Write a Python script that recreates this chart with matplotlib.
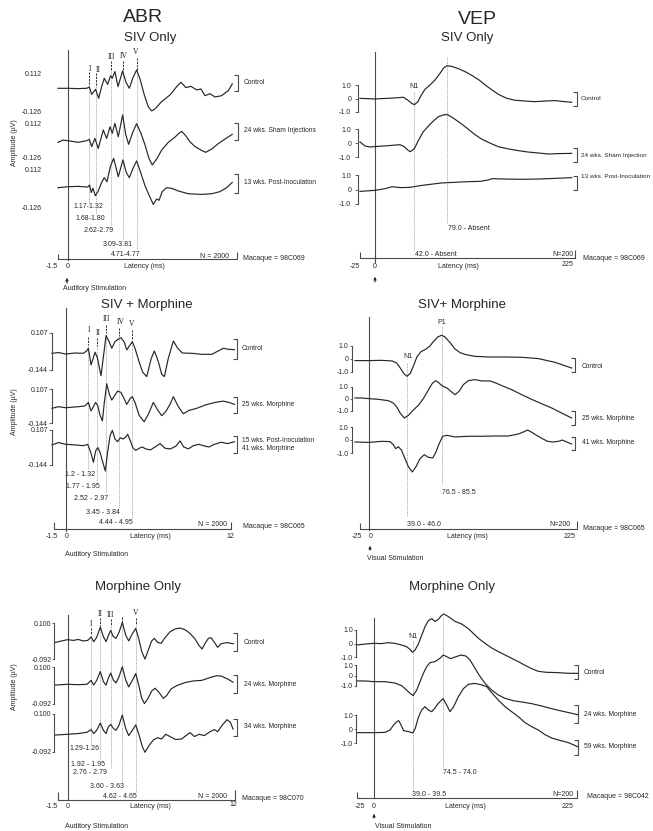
import matplotlib
matplotlib.use("Agg")
import matplotlib.pyplot as plt

plt.rcParams['font.family'] = ['Liberation Sans', 'DejaVu Sans']

# ======================= DATA =======================
# ---- ABR, SIV Only (latency ms, amplitude uV) ----
p1_ctrl_t = [-0.74, 0.00, 0.71, 1.31, 1.50, 1.67, 1.95, 2.17, 2.38, 2.57, 2.81, 3.02, 3.14, 3.33, 3.55, 3.88, 4.12, 4.36, 4.60, 4.88, 5.14, 5.43, 5.71, 5.95, 6.19, 6.67, 7.26, 7.74, 8.05, 8.40, 8.76, 9.17, 9.48, 9.76, 10.12, 10.48, 10.95, 11.43, 11.71]
p1_ctrl_v = [0.000, 0.000, -0.002, 0.000, 0.008, -0.037, -0.006, -0.061, 0.010, 0.061, 0.024, 0.077, 0.061, 0.102, 0.010, 0.106, 0.037, 0.000, 0.061, 0.112, 0.051, -0.041, -0.112, -0.138, -0.126, -0.081, -0.041, 0.010, 0.037, 0.004, 0.012, -0.010, -0.004, -0.045, -0.033, -0.053, -0.045, -0.014, 0.026]
p1_sham_t = [-0.74, -0.36, 0.12, 0.71, 1.31, 1.50, 1.67, 1.90, 2.14, 2.50, 2.74, 2.98, 3.14, 3.33, 3.57, 3.88, 4.10, 4.31, 4.60, 4.88, 5.19, 5.48, 5.76, 6.00, 6.31, 6.67, 7.14, 7.62, 7.90, 8.10, 8.38, 8.69, 9.05, 9.52, 9.81, 10.24, 10.71, 11.19, 11.71]
p1_sham_v = [-0.004, 0.010, 0.004, -0.004, 0.006, 0.014, -0.030, 0.020, -0.041, 0.071, 0.020, 0.091, 0.051, 0.112, 0.030, 0.163, 0.045, -0.016, 0.057, 0.110, 0.051, -0.020, -0.102, -0.142, -0.106, -0.051, -0.004, 0.028, 0.051, 0.063, 0.037, 0.000, -0.030, -0.053, -0.065, -0.045, -0.012, 0.016, 0.045]
p1_post_t = [-0.74, 0.00, 0.71, 1.38, 1.52, 1.64, 1.76, 1.93, 2.14, 2.38, 2.57, 2.76, 3.00, 3.24, 3.57, 3.90, 4.14, 4.36, 4.62, 4.88, 5.19, 5.48, 5.76, 6.07, 6.31, 6.48, 6.71, 7.02, 7.38, 7.86, 8.57, 9.52, 10.24, 10.83, 11.31, 11.71]
p1_post_v = [-0.006, 0.000, 0.002, -0.002, 0.010, -0.035, -0.010, -0.055, -0.026, 0.026, 0.055, 0.030, 0.122, 0.173, 0.061, 0.163, 0.087, 0.055, 0.112, 0.157, 0.081, 0.006, -0.050, -0.108, -0.075, -0.083, -0.030, -0.006, -0.010, -0.026, -0.043, -0.047, -0.043, -0.030, -0.006, 0.026]
p1_waves_ms = [1.48, 1.95, 3.05, 3.88, 4.88]
p1_wave_names = ['I', 'II', 'III', 'IV', 'V']
p1_latency_text = ['1.17-1.32', '1.68-1.80', '2.62-2.79', '3.09-3.81', '4.71-4.77']
p1_scale_ticks = [0.112, -0.126]
p1_trace_names = ['Control', '24 wks. Sham Injections', '13 wks. Post-Inoculation']

# ---- ABR, SIV + Morphine ----
p3_ctrl_t = [-0.98, -0.52, 0.00, 0.67, 1.26, 1.50, 1.62, 1.81, 2.10, 2.26, 2.52, 2.71, 2.88, 3.10, 3.29, 3.52, 3.71, 3.95, 4.19, 4.36, 4.60, 4.76, 4.95, 5.24, 5.50, 5.79, 6.10, 6.33, 6.62, 6.86, 7.05, 7.33, 7.69, 8.00, 8.33, 9.00, 9.71, 10.43, 10.90, 11.26, 11.62, 12.05]
p3_ctrl_v = [0.000, 0.005, -0.005, 0.002, 0.000, 0.016, 0.034, -0.079, 0.007, -0.029, -0.152, -0.011, 0.120, 0.079, 0.034, 0.079, 0.093, 0.106, 0.075, 0.023, 0.057, 0.079, 0.034, -0.057, -0.129, -0.158, -0.038, 0.016, -0.057, -0.143, -0.158, -0.034, 0.084, 0.034, 0.002, 0.000, -0.007, -0.007, 0.016, 0.034, 0.027, 0.025]
p3_m25_t = [-0.98, -0.52, 0.00, 0.90, 1.38, 1.62, 1.81, 2.14, 2.29, 2.45, 2.62, 2.76, 2.93, 3.12, 3.29, 3.52, 3.71, 3.95, 4.14, 4.36, 4.62, 4.76, 4.95, 5.24, 5.60, 5.90, 6.26, 6.57, 6.86, 7.14, 7.45, 7.69, 8.05, 8.40, 8.81, 9.36, 9.95, 10.67, 11.26, 11.67, 12.05]
p3_m25_v = [-0.011, 0.000, -0.007, 0.000, 0.005, 0.029, -0.029, 0.029, 0.007, -0.057, -0.097, 0.029, 0.156, 0.084, 0.045, 0.079, 0.106, 0.097, 0.061, 0.016, 0.057, 0.068, 0.029, -0.057, -0.102, -0.052, 0.029, -0.023, -0.061, -0.034, 0.016, 0.068, 0.000, -0.048, -0.025, -0.011, 0.011, 0.029, 0.038, 0.029, 0.016]
p3_m41_t = [-0.98, -0.52, 0.00, 0.67, 1.26, 1.57, 1.79, 1.98, 2.14, 2.29, 2.45, 2.67, 2.83, 3.00, 3.17, 3.33, 3.52, 3.71, 3.90, 4.10, 4.29, 4.43, 4.62, 4.79, 5.00, 5.24, 5.48, 5.71, 6.05, 6.38, 6.74, 7.10, 7.48, 7.86, 8.17, 8.43, 8.76, 9.12, 9.52, 9.90, 10.24, 10.62, 11.10, 11.57, 12.05]
p3_m41_v = [-0.011, 0.005, -0.007, -0.011, -0.016, -0.007, -0.061, -0.129, -0.052, -0.029, -0.061, -0.136, -0.188, -0.057, 0.052, 0.088, 0.029, 0.011, 0.038, 0.029, 0.043, 0.061, 0.016, -0.029, -0.048, -0.034, -0.025, -0.038, -0.045, -0.025, -0.002, -0.034, -0.038, -0.020, 0.016, -0.025, -0.038, -0.016, -0.007, -0.018, -0.025, -0.007, 0.007, -0.002, 0.011]
p3_waves_ms = [1.62, 2.26, 2.88, 3.81, 4.76]
p3_wave_names = ['I', 'II', 'III', 'IV', 'V']
p3_latency_text = ['1.2 - 1.32', '1.77 - 1.95', '2.52 - 2.97', '3.45 - 3.84', '4.44 - 4.95']
p3_scale_ticks = [0.107, -0.144]
p3_trace_names = ['Control', '25 wks. Morphine', '15 wks. Post-Inoculation\n41 wks. Morphine']

# ---- ABR, Morphine Only ----
p5_ctrl_t = [-0.90, -0.43, 0.00, 0.40, 0.76, 1.12, 1.43, 1.67, 1.86, 2.07, 2.33, 2.55, 2.74, 2.90, 3.07, 3.26, 3.45, 3.67, 3.90, 4.14, 4.36, 4.62, 4.86, 5.07, 5.29, 5.52, 5.76, 6.00, 6.19, 6.43, 6.67, 6.95, 7.31, 7.67, 8.02, 8.38, 8.74, 9.10, 9.38, 9.60, 9.81, 10.05, 10.24, 10.48, 10.71, 10.95, 11.36, 11.83]
p5_ctrl_v = [-0.004, 0.004, 0.011, 0.007, 0.012, 0.004, 0.007, 0.025, 0.000, 0.023, 0.078, 0.027, 0.000, 0.032, 0.060, 0.027, 0.018, 0.050, 0.103, 0.036, 0.004, 0.043, 0.071, 0.018, -0.053, -0.093, -0.044, 0.004, 0.018, -0.004, -0.009, 0.021, 0.053, 0.068, 0.073, 0.064, 0.044, 0.014, -0.021, -0.039, -0.009, 0.018, 0.021, -0.004, -0.030, -0.011, -0.005, -0.011]
p5_m24_t = [-0.90, 0.00, 0.76, 1.38, 1.67, 1.86, 2.07, 2.33, 2.55, 2.74, 2.90, 3.07, 3.26, 3.45, 3.67, 3.90, 4.14, 4.36, 4.62, 4.86, 5.07, 5.29, 5.48, 5.71, 6.00, 6.24, 6.52, 6.83, 7.07, 7.38, 7.79, 8.38, 8.98, 9.57, 10.17, 10.64, 11.00, 11.43, 11.81]
p5_m24_v = [-0.004, 0.000, -0.002, 0.000, 0.021, -0.004, 0.021, 0.068, 0.014, -0.004, 0.032, 0.060, 0.023, 0.007, 0.041, 0.094, 0.023, -0.014, 0.021, 0.057, -0.004, -0.075, -0.103, -0.078, -0.036, -0.021, -0.043, -0.075, -0.060, -0.025, -0.007, 0.009, 0.018, 0.021, 0.036, 0.046, 0.043, 0.028, 0.011]
p5_m34_t = [-0.90, 0.00, 0.76, 1.38, 1.67, 1.86, 2.07, 2.33, 2.55, 2.74, 2.90, 3.07, 3.26, 3.45, 3.67, 3.90, 4.14, 4.36, 4.62, 4.86, 5.10, 5.33, 5.52, 5.81, 6.12, 6.43, 6.71, 7.00, 7.31, 7.71, 8.14, 8.50, 8.74, 9.05, 9.38, 9.76, 10.17, 10.48, 10.71, 11.05, 11.38, 11.62, 11.81]
p5_m34_v = [-0.004, 0.000, 0.004, 0.011, 0.025, 0.004, 0.021, 0.060, 0.021, 0.004, 0.039, 0.053, 0.032, 0.021, 0.050, 0.103, 0.032, -0.007, 0.021, 0.050, -0.004, -0.066, -0.096, -0.060, -0.030, -0.018, -0.025, 0.000, -0.012, -0.028, -0.025, -0.004, 0.009, -0.012, 0.000, -0.007, 0.014, 0.025, 0.014, 0.050, 0.078, 0.064, 0.028]
p5_waves_ms = [1.67, 2.33, 3.07, 3.90, 4.86]
p5_wave_names = ['I', 'II', 'III', '', 'V']
p5_latency_text = ['1.29-1.26', '1.92 - 1.95', '2.76 - 2.79', '3.60 - 3.63', '4.62 - 4.65']
p5_scale_ticks = [0.100, -0.092]
p5_trace_names = ['Control', '24 wks. Morphine', '34 wks. Morphine']

# ---- VEP, SIV Only (latency ms, amplitude uV) ----
p2_ctrl_t = [-17.1, -7.6, 0.0, 15.2, 26.7, 32.4, 37.3, 41.9, 45.0, 48.8, 52.6, 57.1, 62.9, 68.6, 74.3, 78.5, 82.3, 88.4, 96.0, 103.6, 111.2, 118.9, 126.5, 134.1, 141.7, 150.5, 160.0, 171.4, 182.9, 194.3, 205.7, 224.8]
p2_ctrl_v = [0.00, -0.03, -0.05, 0.00, 0.05, 0.08, -0.13, -0.38, -0.49, -0.28, 0.21, 0.69, 1.03, 1.41, 1.92, 2.33, 2.51, 2.44, 2.26, 2.03, 1.74, 1.41, 1.00, 0.62, 0.28, 0.00, -0.15, -0.21, -0.26, -0.21, -0.18, -0.31]
p2_sham_t = [-17.1, -11.4, -5.7, 3.8, 15.2, 28.6, 33.5, 37.3, 40.4, 45.0, 49.5, 55.2, 61.0, 66.7, 72.4, 78.1, 81.9, 85.7, 91.4, 99.0, 106.7, 114.3, 121.9, 129.5, 141.0, 152.4, 163.8, 175.2, 186.7, 198.1, 209.5, 224.8]
p2_sham_v = [0.15, -0.15, -0.23, -0.18, -0.13, -0.05, -0.21, -0.46, -0.59, -0.36, 0.26, 0.95, 1.38, 1.77, 2.10, 2.23, 2.28, 2.15, 1.90, 1.54, 1.13, 0.72, 0.38, 0.13, -0.21, -0.38, -0.51, -0.62, -0.69, -0.77, -0.74, -0.72]
p2_post_t = [-17.1, 0.0, 11.4, 19.8, 28.6, 40.0, 51.4, 62.9, 76.2, 91.4, 106.7, 120.0, 129.5, 134.1, 148.6, 167.6, 186.7, 205.7, 224.8]
p2_post_v = [-0.03, 0.05, 0.18, 0.33, 0.26, 0.28, 0.41, 0.51, 0.62, 0.67, 0.72, 0.74, 0.85, 0.95, 0.92, 0.90, 0.92, 0.97, 1.03]
p2_peaks_ms = [45.0, 82.3]
p2_latency_text = ['42.0 - Absent', '79.0 - Absent']
p2_trace_names = ['Control', '24 wks. Sham Injection', '13 wks. Post-Inoculation']

# ---- VEP, SIV + Morphine ----
p4_ctrl_t = [-16.0, -10.3, 0.0, 14.5, 26.7, 31.6, 35.8, 39.6, 43.4, 47.2, 51.0, 54.9, 59.4, 64.8, 69.7, 73.9, 78.5, 83.0, 86.9, 92.6, 98.3, 104.0, 110.5, 121.1, 136.4, 155.4, 174.5, 193.5, 212.6, 231.6]
p4_ctrl_v = [0.03, 0.03, 0.03, 0.05, 0.00, -0.15, -0.53, -0.93, -1.15, -0.93, -0.33, 0.33, 0.70, 0.88, 1.13, 1.48, 1.80, 1.93, 1.80, 1.38, 0.90, 0.63, 0.48, 0.35, 0.30, 0.30, 0.28, 0.18, -0.10, -0.53]
p4_m25_t = [-16.0, -8.4, 0.0, 10.7, 22.1, 27.8, 32.0, 35.8, 40.4, 45.0, 50.7, 56.4, 62.1, 67.8, 72.4, 76.2, 80.0, 83.8, 89.1, 94.5, 98.3, 102.9, 107.8, 113.5, 121.1, 128.8, 138.3, 145.9, 153.5, 163.0, 174.5, 185.9, 197.3, 208.8, 220.2, 231.6]
p4_m25_v = [0.00, 0.00, -0.05, -0.10, -0.20, -0.38, -0.70, -1.15, -1.50, -1.30, -0.90, -0.55, -0.05, 0.60, 1.10, 1.30, 1.13, 0.90, 0.75, 0.45, 0.25, 0.50, 1.00, 1.30, 1.38, 1.28, 1.28, 1.10, 0.88, 0.63, 0.25, -0.10, -0.43, -0.75, -1.13, -1.50]
p4_m41_t = [-16.0, 0.0, 14.5, 24.0, 27.8, 30.5, 33.5, 37.0, 40.8, 45.0, 49.5, 53.7, 58.3, 63.2, 67.8, 72.8, 76.2, 80.0, 84.2, 89.1, 98.3, 113.5, 128.8, 144.0, 159.2, 170.7, 176.4, 181.3, 186.7, 191.6, 198.1, 204.2, 210.7, 216.4, 221.0, 225.9, 231.6]
p4_m41_v = [0.00, -0.03, 0.05, 0.03, -0.20, -0.50, -0.35, -0.60, -1.20, -1.85, -2.25, -1.85, -1.25, -0.95, -1.15, -1.20, -0.80, -0.15, 0.43, 0.50, 0.38, 0.43, 0.43, 0.45, 0.45, 0.60, 0.75, 0.90, 0.70, 0.50, 0.25, 0.05, 0.00, 0.05, 0.15, 0.00, -0.15]
p4_peaks_ms = [43.8, 83.0]
p4_latency_text = ['39.0 - 46.0', '76.5 - 85.5']
p4_trace_names = ['Control', '25 wks. Morphine', '41 wks. Morphine']

# ---- VEP, Morphine Only ----
p6_ctrl_t = [-19.8, -10.3, 0.0, 8.8, 16.4, 24.0, 31.6, 37.3, 41.1, 43.8, 46.9, 50.7, 54.5, 58.3, 62.1, 65.9, 69.7, 73.5, 76.6, 79.6, 85.0, 92.6, 100.2, 107.8, 113.5, 120.0, 126.9, 134.5, 142.1, 149.7, 157.3, 165.0, 172.6, 180.2, 187.8, 197.3, 208.8, 222.1, 232.8]
p6_ctrl_v = [0.07, 0.14, 0.19, 0.17, 0.24, 0.19, 0.07, -0.05, -0.24, -0.45, -0.29, 0.14, 0.76, 1.38, 1.81, 1.95, 1.76, 1.90, 2.14, 2.29, 2.10, 1.76, 1.57, 1.24, 0.90, 0.52, 0.19, -0.14, -0.40, -0.64, -0.88, -1.12, -1.38, -1.62, -1.81, -1.88, -1.90, -1.95, -1.95]
p6_m24_t = [-19.8, -10.3, 0.0, 12.6, 24.0, 31.6, 37.3, 41.1, 44.6, 48.8, 52.6, 56.4, 60.2, 64.0, 69.7, 75.4, 79.2, 83.0, 87.6, 92.6, 99.4, 105.1, 109.7, 114.3, 120.0, 126.9, 134.5, 142.1, 149.7, 159.2, 168.8, 180.2, 191.6, 203.0, 214.5, 225.9, 232.8]
p6_m24_v = [-0.64, -0.64, -0.69, -0.69, -0.79, -0.98, -1.29, -1.52, -1.69, -1.29, -0.69, -0.10, 0.38, 0.67, 0.74, 0.98, 1.21, 1.10, 0.95, 1.07, 1.21, 1.14, 0.86, 0.38, -0.21, -0.81, -1.29, -1.64, -1.88, -2.05, -2.14, -2.26, -2.43, -2.62, -2.79, -2.95, -3.05]
p6_m59_t = [-19.8, 0.0, 12.6, 18.3, 22.1, 25.5, 28.2, 30.9, 33.9, 37.7, 41.1, 44.2, 47.2, 50.7, 54.5, 58.3, 62.1, 65.9, 69.7, 73.5, 78.9, 83.0, 86.9, 91.0, 96.4, 102.1, 107.8, 114.7, 122.3, 128.8, 134.5, 142.1, 149.7, 157.3, 165.0, 172.6, 180.2, 187.8, 195.4, 203.0, 210.7, 222.1, 232.8]
p6_m59_v = [-0.12, -0.12, -0.10, 0.07, 0.40, 0.64, 0.74, 0.43, 0.02, -0.02, -0.07, -0.14, 0.19, 0.98, 1.50, 1.74, 1.50, 1.38, 1.64, 1.98, 2.31, 1.86, 1.38, 1.74, 2.45, 3.02, 3.33, 3.40, 3.31, 3.17, 2.74, 2.21, 1.74, 1.38, 1.02, 0.60, 0.31, 0.07, -0.26, -0.50, -0.64, -0.83, -1.12]
p6_peaks_ms = [44.2, 79.2]
p6_latency_text = ['39.0 - 39.5', '74.5 - 74.0']
p6_trace_names = ['Control', '24 wks. Morphine', '59 wks. Morphine']

vep_scale_ticks = [1.0, 0.0, -1.0]
vep_scale_text = ['1.0', '0', '-1.0']

# ======================= FIGURE =======================
W, H = 653, 831
fig = plt.figure(figsize=(W / 100, H / 100), dpi=100)
fig.patch.set_facecolor('white')
bg = fig.add_axes([0, 0, 1, 1])
bg.set_xlim(0, W)
bg.set_ylim(H, 0)
bg.axis('off')

INK = '#262626'
GREY = '#4a4a4a'
DOT = '#8c8c8c'
SMALL = 5
NAME = 4.8


def txt(x, y, s, size=SMALL, ha='center', va='center', **kw):
    bg.text(x, y, s, fontsize=size, ha=ha, va=va, color=INK, **kw)


def seg(xs, ys, lw=0.8, color=GREY):
    bg.plot(xs, ys, color=color, lw=lw, solid_capstyle='butt')


def bracket(xb, y1, y2):
    seg([xb - 4, xb, xb, xb - 4], [y1, y1, y2, y2])


def make_panel(x0, s, xlim):
    left = x0 + s * xlim[0]
    width = s * (xlim[1] - xlim[0])
    pa = fig.add_axes([left / W, 0, width / W, 1])
    pa.set_xlim(*xlim)
    pa.set_ylim(H, 0)
    pa.axis('off')
    return pa, left, width


def bare_axes(left, width, ytop, ybot, xlim, ylim):
    ax = fig.add_axes([left / W, 1 - ybot / H, width / W, (ybot - ytop) / H])
    ax.set_xlim(*xlim)
    ax.set_ylim(*ylim)
    ax.patch.set_visible(False)
    for k in ('top', 'right', 'bottom'):
        ax.spines[k].set_visible(False)
    ax.set_xticks([])
    return ax


def add_trace(geom, xlim, base, g, half, t, v):
    left, width = geom
    ax = bare_axes(left, width, base - g * half, base + g * half, xlim, (-half, half))
    ax.spines['left'].set_visible(False)
    ax.set_yticks([])
    ax.plot(t, v, color=INK, lw=0.85, clip_on=False, solid_joinstyle='round')
    return ax


def add_scale(geom, xlim, ytop, ybot, ticks, ticktext, spine_x, tlen, tpad):
    # scale bar: ticks[0] (top value) sits at ytop, ticks[-1] (bottom value) at ybot
    left, width = geom
    ax = bare_axes(left, width, ytop, ybot, xlim, (ticks[-1], ticks[0]))
    ax.set_yticks(ticks)
    ax.set_yticklabels(ticktext)
    ax.tick_params(axis='y', labelsize=SMALL, length=tlen, width=0.6, pad=tpad,
                   color=GREY, labelcolor=INK, direction='out')
    sp = ax.spines['left']
    if spine_x is None:
        sp.set_visible(False)
    else:
        sp.set_position(('data', spine_x))
        sp.set_linewidth(0.8)
        sp.set_color(GREY)
    return ax


def vline(pa, t, y1, y2, style='dot'):
    if style == 'dot':
        pa.plot([t, t], [y1, y2], color=DOT, lw=0.55, ls=(0, (1.2, 1.2)))
    else:
        pa.plot([t, t], [y1, y2], color=INK, lw=0.7, ls=(0, (2.2, 1.2)))


ABR_XLIM = (-1.5, 12.5)
VEP_XLIM = (-30, 240)
SERIF = ['Liberation Serif', 'DejaVu Serif']

# ---------------------------------------------------------------- Panel 1
pa, L, Wd = make_panel(68.3, 14, ABR_XLIM)
txt(143, 18, 'ABR', 14)
txt(150, 38, 'SIV Only', 9.5)
txt(15, 143, 'Amplitude (µV)', rotation=90)
for base, t, v in zip([88.3, 141.7, 186.7], [p1_ctrl_t, p1_sham_t, p1_post_t], [p1_ctrl_v, p1_sham_v, p1_post_v]):
    add_trace((L, Wd), ABR_XLIM, base, 164, 0.3, t, v)
for ytop, ybot in [(73, 112), (123, 158), (170, 207)]:
    add_scale((L, Wd), ABR_XLIM, ytop, ybot, p1_scale_ticks,
              ['%.3f' % x for x in p1_scale_ticks], None, 0, 3.8)
pa.plot([0, 0], [50, 260], color=GREY, lw=0.8)
lab_xy = [(90, 69), (98, 70), (112, 57), (124, 56), (136, 52)]
tick_y = [(72, 85), (73, 85), (61, 70), (61, 70), (58, 70)]
dot_end = [203, 214, 226, 241, 250]
lat_xy = [(88, 207), (90, 218), (99, 230), (118, 245), (126, 254)]
for i, w in enumerate(p1_waves_ms):
    txt(*lab_xy[i], p1_wave_names[i], 5.5, family=SERIF)
    vline(pa, w, tick_y[i][0], tick_y[i][1], 'dash')
    vline(pa, w, tick_y[i][1], dot_end[i])
    txt(*lat_xy[i], p1_latency_text[i])
seg([58, 58, 237, 237], [254, 259, 259, 252])
txt(52, 267, '-1.5'); txt(68, 267, '0'); txt(144, 267, 'Latency (ms)')
txt(215, 256, 'N = 2000')
txt(243, 258, 'Macaque = 98C069', ha='left')
bg.annotate('', xy=(67, 275), xytext=(67, 286),
            arrowprops=dict(arrowstyle='-|>', lw=0.7, color=INK, mutation_scale=4))
txt(63, 289, 'Auditory Stimulation', ha='left')
for (y1, y2, yt), name in zip([(75, 91, 83), (123, 140, 131), (174, 193, 183)], p1_trace_names):
    bracket(238, y1, y2)
    txt(244, yt, name, NAME, ha='left')

# ---------------------------------------------------------------- Panel 2
pa, L, Wd = make_panel(375, 0.875, VEP_XLIM)
txt(477, 19, 'VEP', 14)
txt(467, 38, 'SIV Only', 9.5)
for base, t, v in zip([98.3, 144.0, 191.0], [p2_ctrl_t, p2_sham_t, p2_post_t], [p2_ctrl_v, p2_sham_v, p2_post_v]):
    add_trace((L, Wd), VEP_XLIM, base, 13, 4, t, v)
for ytop, ybot in [(85, 112), (129, 157), (175, 204)]:
    add_scale((L, Wd), VEP_XLIM, ytop, ybot, vep_scale_ticks, vep_scale_text, -20.0, 2, 2.5)
pa.plot([0, 0], [52, 262], color=GREY, lw=0.8)
txt(414, 87, 'N1')
vline(pa, p2_peaks_ms[0], 92, 250)
vline(pa, p2_peaks_ms[1], 57, 223)
txt(415, 254, p2_latency_text[0], ha='left')
txt(448, 229, p2_latency_text[1], ha='left')
seg([360, 360, 575, 575], [252, 258, 258, 250])
txt(355, 266, '-25'); txt(375, 267, '0'); txt(568, 265, '225'); txt(458, 267, 'Latency (ms)')
txt(563, 255, 'N=200')
txt(583, 258, 'Macaque = 98C069', ha='left')
bg.annotate('', xy=(375, 274), xytext=(375, 285),
            arrowprops=dict(arrowstyle='-|>', lw=0.7, color=INK, mutation_scale=4))
for (y1, y2, yt), name in zip([(92, 106, 99), (148, 162, 155), (176, 190, 177)], p2_trace_names):
    bracket(577, y1, y2)
    txt(581, yt, name, 4.6, ha='left')

# ---------------------------------------------------------------- Panel 3
pa, L, Wd = make_panel(65.7, 14, ABR_XLIM)
txt(147, 305, 'SIV + Morphine', 9.5)
txt(15, 412, 'Amplitude (µV)', rotation=90)
for base, t, v in zip([353.3, 406.7, 443.3], [p3_ctrl_t, p3_m25_t, p3_m41_t], [p3_ctrl_v, p3_m25_v, p3_m41_v]):
    add_trace((L, Wd), ABR_XLIM, base, 147.3, 0.3, t, v)
for ytop, ybot in [(333, 370), (389, 423), (430, 465)]:
    add_scale((L, Wd), ABR_XLIM, ytop, ybot, p3_scale_ticks,
              ['%.3f' % x for x in p3_scale_ticks], -0.98, 2.5, 0.5)
pa.plot([0, 0], [308, 531], color=GREY, lw=0.8)
lab_xy = [(89, 330), (98, 333), (107, 319), (121, 322), (132, 324)]
tick_y = [(337, 345), (338, 346), (325, 333), (328, 336), (330, 339)]
dot_end = [470, 482, 493, 508, 518]
lat_xy = [(80, 475), (83, 487), (91, 498), (103, 513), (116, 523)]
for i, w in enumerate(p3_waves_ms):
    txt(*lab_xy[i], p3_wave_names[i], 5.5, family=SERIF)
    vline(pa, w, tick_y[i][0], tick_y[i][1], 'dash')
    vline(pa, w, tick_y[i][1], dot_end[i])
    txt(*lat_xy[i], p3_latency_text[i])
seg([54, 54, 231, 231], [522, 529, 529, 522])
txt(52, 537, '-1.5'); txt(67, 537, '0'); txt(230, 537, '12'); txt(150, 537, 'Latency (ms)')
txt(213, 525, 'N = 2000')
txt(243, 527, 'Macaque = 98C065', ha='left')
txt(65, 555, 'Auditory Stimulation', ha='left')
for (y1, y2, yt), name in zip([(339, 359, 348), (397, 413, 405), (436, 453, 444.5)], p3_trace_names):
    bracket(237, y1, y2)
    txt(242, yt, name, NAME, ha='left', linespacing=1.1)

# ---------------------------------------------------------------- Panel 4
pa, L, Wd = make_panel(369, 0.875, VEP_XLIM)
txt(462, 305, 'SIV+ Morphine', 9.5)
for base, t, v in zip([361.0, 398.0, 442.0], [p4_ctrl_t, p4_m25_t, p4_m41_t], [p4_ctrl_v, p4_m25_v, p4_m41_v]):
    add_trace((L, Wd), VEP_XLIM, base, 13.33, 4, t, v)
for ytop, ybot in [(346, 372), (387, 411), (427, 453)]:
    add_scale((L, Wd), VEP_XLIM, ytop, ybot, vep_scale_ticks, vep_scale_text, -19.4, 1.5, 1.0)
pa.plot([0, 0], [317, 530], color=GREY, lw=0.8)
txt(408, 357, 'N1')
txt(442, 322, 'P1')
vline(pa, p4_peaks_ms[0], 363, 517)
vline(pa, p4_peaks_ms[1], 327, 485)
txt(407, 524, p4_latency_text[0], ha='left')
txt(442, 492, p4_latency_text[1], ha='left')
seg([360, 360, 577, 577], [523, 529, 529, 521])
txt(357, 537, '-25'); txt(371, 537, '0'); txt(570, 537, '225'); txt(467, 537, 'Latency (ms)')
txt(560, 525, 'N=200')
txt(583, 528, 'Macaque = 98C065', ha='left')
bg.annotate('', xy=(370, 543), xytext=(370, 553),
            arrowprops=dict(arrowstyle='-|>', lw=0.7, color=INK, mutation_scale=4))
txt(367, 558, 'Visual Stimulation', ha='left')
for (y1, y2, yt), name in zip([(358, 372, 366), (411, 425, 418), (437, 450, 443)], p4_trace_names):
    bracket(575, y1, y2)
    txt(582, yt, name, NAME, ha='left')

# ---------------------------------------------------------------- Panel 5
pa, L, Wd = make_panel(67.7, 14, ABR_XLIM)
txt(138, 587, 'Morphine Only', 9.5)
txt(15, 687, 'Amplitude (µV)', rotation=90)
for base, t, v in zip([641.7, 684.3, 734.3], [p5_ctrl_t, p5_m24_t, p5_m34_t], [p5_ctrl_v, p5_m24_v, p5_m34_v]):
    add_trace((L, Wd), ABR_XLIM, base, 187.3, 0.3, t, v)
for ytop, ybot in [(623, 659), (667, 704), (714, 752)]:
    add_scale((L, Wd), ABR_XLIM, ytop, ybot, p5_scale_ticks,
              ['%.3f' % x for x in p5_scale_ticks], -0.96, 1.5, 0.5)
pa.plot([0, 0], [615, 800], color=GREY, lw=0.8)
lab_xy = [(91, 624), (100, 614), (111, 615), (122, 612), (136, 613)]
tick_y = [(628, 634), (618, 626), (619, 626), (617, 623), (618, 624)]
dot_end = [746, 760, 769, 782, 792]
lat_xy = [(84, 749), (88, 765), (90, 773), (107, 786), (120, 797)]
for i, w in enumerate(p5_waves_ms):
    if p5_wave_names[i]:
        txt(*lab_xy[i], p5_wave_names[i], 5.5, family=SERIF)
    vline(pa, w, tick_y[i][0], tick_y[i][1], 'dash')
    vline(pa, w, tick_y[i][1], dot_end[i])
    txt(*lat_xy[i], p5_latency_text[i])
seg([58, 58, 235, 235], [792, 800, 800, 790])
txt(52, 807, '-1.5'); txt(68, 807, '0'); txt(233, 805, '12'); txt(150, 807, 'Latency (ms)')
txt(213, 796, 'N = 2000')
txt(242, 799, 'Macaque = 98C070', ha='left')
txt(65, 827, 'Auditory Stimulation', ha='left')
for (y1, y2, yt), name in zip([(633, 651, 642), (675, 693, 684), (719, 736, 727)], p5_trace_names):
    bracket(237, y1, y2)
    txt(244, yt, name, NAME, ha='left')

# ---------------------------------------------------------------- Panel 6
pa, L, Wd = make_panel(374, 0.875, VEP_XLIM)
txt(452, 587, 'Morphine Only', 9.5)
for base, t, v in zip([646.0, 672.0, 731.0], [p6_ctrl_t, p6_m24_t, p6_m59_t], [p6_ctrl_v, p6_m24_v, p6_m59_v]):
    add_trace((L, Wd), VEP_XLIM, base, 14, 4, t, v)
for ytop, ybot in [(630, 657), (665, 686), (715, 743)]:
    add_scale((L, Wd), VEP_XLIM, ytop, ybot, vep_scale_ticks, vep_scale_text, -20.6, 1.5, 0.8)
pa.plot([0, 0], [618, 798], color=GREY, lw=0.8)
txt(413, 636, 'N1')
vline(pa, p6_peaks_ms[0], 641, 791)
vline(pa, p6_peaks_ms[1], 618, 769)
txt(412, 794, p6_latency_text[0], ha='left')
txt(443, 773, p6_latency_text[1], ha='left')
seg([357, 357, 577, 577], [792, 798, 798, 790])
txt(360, 807, '-25'); txt(374, 807, '0'); txt(568, 806, '225'); txt(465, 807, 'Latency (ms)')
txt(563, 794, 'N=200')
txt(587, 797, 'Macaque = 98C042', ha='left')
bg.annotate('', xy=(374, 811), xytext=(374, 821),
            arrowprops=dict(arrowstyle='-|>', lw=0.7, color=INK, mutation_scale=4))
txt(375, 827, 'Visual Stimulation', ha='left')
for (y1, y2, yt), name in zip([(665, 679, 672), (705, 723, 714), (740, 755, 747)], p6_trace_names):
    bracket(578, y1, y2)
    txt(584, yt, name, NAME, ha='left')

fig.savefig('out.png', dpi=100, facecolor='white')
